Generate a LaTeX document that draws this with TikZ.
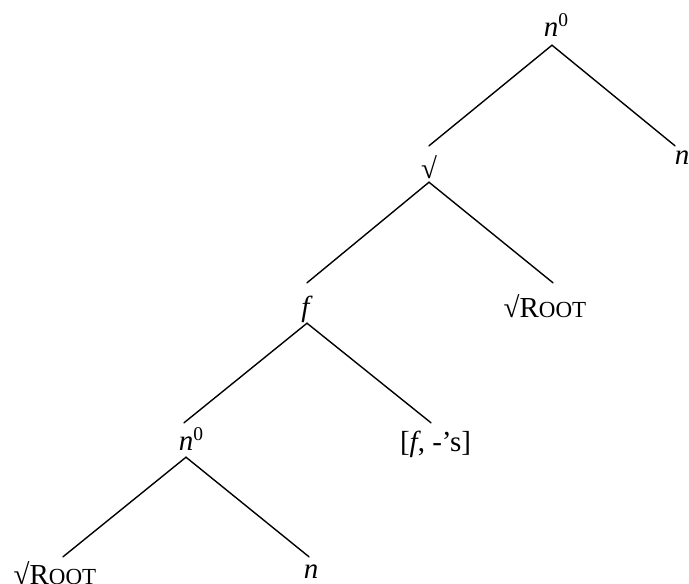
\documentclass[tikz,border=0pt]{standalone}
\usepackage{fontspec}
\setmainfont{Liberation Serif}
\newcommand{\supz}{\raisebox{10pt}{\fontsize{19.5}{19.5}\selectfont 0}}
\newcommand{\rootsc}{√R{\fontsize{23}{23}\selectfont OOT}}
\begin{document}
\begin{tikzpicture}[x=1pt,y=-1pt,
  lab/.style={inner sep=0pt, anchor=base, font=\fontsize{29}{31}\selectfont},
  edge/.style={line width=1.4pt, line cap=round}]
\useasboundingbox (0,0) rectangle (689,584);
\node[lab, text height=20pt, text depth=9pt] (t0) at (556,36) {\textit{n}\supz};
\node[lab, text height=18pt, text depth=0pt] (tn) at (682,164) {\textit{n}};
\node[lab, text height=32pt, text depth=4pt] (sq) at (429,178) {√};
\node[lab, text height=33pt, text depth=7pt] (f) at (307,316) {\textit{f}};
\node[lab, text height=34pt, text depth=0pt] (r1) at (545,317) {\rootsc};
\node[lab, text height=27pt, text depth=7pt] (n0) at (191,450) {\textit{n}\supz};
\node[lab, text height=28pt, text depth=0pt] (fs) at (435.5,451) {[\textit{f}, -’s]};
\node[lab, text height=27pt, text depth=0pt] (r2) at (55,584) {\rootsc};
\node[lab, text height=21pt, text depth=0pt] (n2) at (311,578) {\textit{n}};
\draw[edge] ([xshift=-4pt]t0.south) -- (sq.north);
\draw[edge] ([xshift=-4pt]t0.south) -- ([xshift=-7pt]tn.north);
\draw[edge] (sq.south) -- (f.north);
\draw[edge] (sq.south) -- ([xshift=8pt]r1.north);
\draw[edge] (f.south) -- ([xshift=-7pt]n0.north);
\draw[edge] (f.south) -- ([xshift=-4.5pt]fs.north);
\draw[edge] ([xshift=-5pt]n0.south) -- ([xshift=8pt]r2.north);
\draw[edge] ([xshift=-5pt]n0.south) -- ([xshift=-2pt]n2.north);
\end{tikzpicture}
\end{document}
